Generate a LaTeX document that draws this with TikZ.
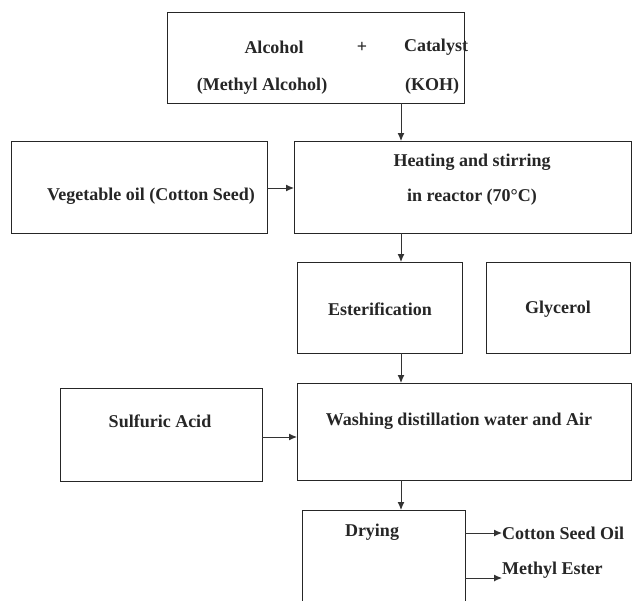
\documentclass[tikz,border=0pt]{standalone}
\usepackage{fontspec}
\setmainfont{Liberation Serif}
\usetikzlibrary{arrows.meta}
\begin{document}
\begin{tikzpicture}[x=1pt,y=-1pt,
  box/.style={draw=black!85, line width=1pt, inner sep=0pt, outer sep=0pt},
  lbl/.style={font=\fontsize{18}{21}\selectfont\bfseries, text=black!85, inner sep=0pt},
  arr/.style={draw=black!80, line width=1pt, -{Latex[length=8pt,width=7pt]}}]
\useasboundingbox[fill=white] (0,0) rectangle (632,600);
% boxes
\node[box, minimum width=297pt, minimum height=91pt] (top) at (315.5,57.5) {};
\node[box, minimum width=256pt, minimum height=92pt] (veg) at (139,187) {};
\node[box, minimum width=337pt, minimum height=92pt] (heat) at (462.5,187) {};
\node[box, minimum width=165pt, minimum height=91pt] (ester) at (379.5,307.5) {};
\node[box, minimum width=144pt, minimum height=91pt] (gly) at (558,307.5) {};
\node[box, minimum width=202pt, minimum height=93pt] (sulf) at (161,434.5) {};
\node[box, minimum width=334pt, minimum height=97pt] (wash) at (464,431.5) {};
\node[box, minimum width=163pt, minimum height=100pt] (dry) at (383.5,560) {};
% texts
\node[lbl] (t1) at (274,47) {Alcohol};
\node[lbl] (t2) at (362,47) {+};
\node[lbl] (t3) at (436,47) {Catalyst};
\node[lbl] (t4) at (262,86) {(Methyl Alcohol)};
\node[lbl] (t5) at (432,86) {(KOH)};
\node[lbl] (t6) at (151,196) {Vegetable oil (Cotton Seed)};
\node[lbl] (t7) at (472,162) {Heating and stirring};
\node[lbl] (t8) at (472,197) {in reactor (70°C)};
\node[lbl] (t9) at (380,309) {Esterification};
\node[lbl] (t10) at (558,309) {Glycerol};
\node[lbl] (t11) at (160,421) {Sulfuric Acid};
\node[lbl] (t12) at (459,421) {Washing distillation water and Air};
\node[lbl] (t13) at (372,532) {Drying};
\node[lbl, anchor=west] (t14) at (502,533) {Cotton Seed Oil};
\node[lbl, anchor=west] (t15) at (502,570) {Methyl Ester};
% connectors
\coordinate (cx) at (401,0);
\draw[arr] (top.south -| cx) -- (heat.north -| cx);
\draw[arr] (heat.south -| cx) -- (ester.north -| cx);
\draw[arr] (ester.south -| cx) -- (wash.north -| cx);
\draw[arr] (wash.south -| cx) -- (dry.north -| cx);
\draw[arr] (veg.east |- 0,188) -- (heat.west |- 0,188);
\draw[arr] (sulf.east |- 0,437) -- (wash.west |- 0,437);
\draw[arr] (dry.east |- t14.west) -- (t14.west);
\draw[arr] (dry.east |- 0,578) -- (t15.west |- 0,578);
\end{tikzpicture}
\end{document}
